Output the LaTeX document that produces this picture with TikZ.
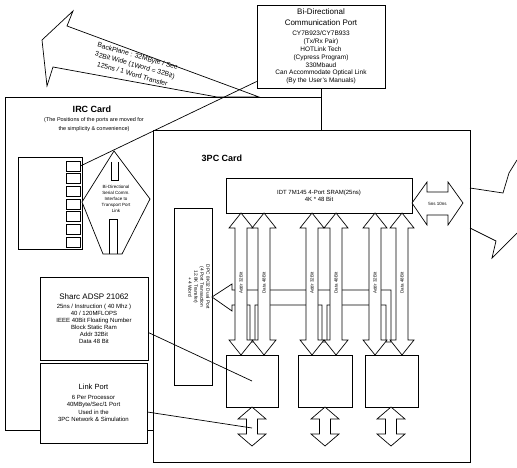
\documentclass[tikz,border=0pt]{standalone}
\usepackage{fontspec}
\setmainfont{Liberation Sans}
\begin{document}
\begin{tikzpicture}[x=1pt,y=-1pt,line width=0.7pt,line join=miter,
  box/.style={draw,fill=white,inner sep=0pt,align=center},
  fat/.style={draw,fill=white},
  small/.style={font=\fontsize{6}{7.2}\selectfont},
  tiny/.style={font=\fontsize{4.5}{6}\selectfont}]
\fill[white] (0,0) rectangle (517,468);
\useasboundingbox (0,0) rectangle (517,468);

% backplane
\draw[fat] (42,40) -- (73,11) -- (67,26) -- (259,97) -- (217,97) -- (53,67) -- (47,86) -- cycle;
\node[rotate=-16,align=center,font=\fontsize{6.8}{9.4}\selectfont] (bp) at (135,65)
  {BackPlane : 32MByte / Sec\\32Bit Wide (1Word = 32Bit)\\125ns / 1 Word Transfer};

% communication port
\node[box,minimum width=128pt,minimum height=83pt,font=\fontsize{6.5}{7.9}\selectfont] (comm) at (321,46.5)
  {{\fontsize{8}{9}\selectfont Bi-Directional}\\[3pt]
   {\fontsize{8}{9}\selectfont Communication Port}\\[2pt]
   CY7B923/CY7B933\\
   (Tx/Rx Pair)\\
   HOTLink Tech\\
   (Cypress Program)\\
   330Mbaud\\
   Can Accommodate Optical Link\\
   (By the User's Manuals)};
\coordinate (irctop) at (321,97);

% IRC card
\draw (5,97) rectangle (321,430);
\node[font=\bfseries\fontsize{9}{10}\selectfont] (irc) at (92,109) {IRC Card};
\node[align=center,font=\fontsize{5.5}{9}\selectfont] (ircnote) at (94,125)
  {(The Positions of the ports are moved for\\the simplicity \& convenience)};

% port strip
\draw[fill=white] (18,157) rectangle (82,249);
\foreach \i in {0,...,6}
  \node[draw,minimum width=14pt,minimum height=10pt,inner sep=0pt] (sq\i) at (73,{166+12.7*\i}) {};

% serial link
\draw[fat] (114,151) -- (150,199) -- (122,254) -- (103,254) -- (82,202) -- cycle;
\draw (111,162) -- (111,180) -- (118,180) -- (118,162);
\draw (109,254) -- (109,219) -- (117,219) -- (117,254);
\node[tiny,align=center] (serial) at (116,199)
  {Bi-Directional\\Serial Comm.\\Interface to\\Transport Port\\Link};

% sharc
\node[box,minimum width=108pt,minimum height=83pt,font=\fontsize{6}{7}\selectfont] (adsp) at (94,318.5)
  {{\fontsize{8}{9}\selectfont Sharc ADSP 21062}\\[2pt]
   25ns / Instruction ( 40 Mhz )\\
   40 / 120MFLOPS\\
   IEEE 40Bit Floating Number\\
   Block Static Ram\\
   Addr 32Bit\\
   Data 48 Bit};

% link port
\node[box,minimum width=107pt,minimum height=80pt,font=\fontsize{6}{7.5}\selectfont] (link) at (93.5,403)
  {{\fontsize{7.5}{9}\selectfont Link Port}\\[2pt]
   6 Per Processor\\
   40MByte/Sec/1 Port\\
   Used in the\\
   3PC Network \& Simulation};

% 3PC card
\node[box,minimum width=317pt,minimum height=332pt] (tpc) at (311.5,296) {};
\node[font=\bfseries\fontsize{9}{10}\selectfont] (tpcname) at (222,158) {3PC Card};

\node[box,minimum width=186pt,minimum height=35pt,small] (sram) at (319,195.5)
  {IDT 7M145 4-Port SRAM(25ns)\\4K * 48 Bit};
\draw[fat] (412,203) -- (427,182) -- (427,192) -- (448,192) -- (448,182) -- (463,203)
  -- (448,225) -- (448,215) -- (427,215) -- (427,225) -- cycle;
\node[font=\fontsize{4.5}{5}\selectfont] (bus) at (437.5,203.5) {5ns 10ns};

% off the card
\draw (470,188) -- (503,193) -- (509,173) -- (517,160);
\draw (470,228) -- (496,241) -- (492,258) -- (517,233);

% dual port box
\node[box,minimum width=38pt,minimum height=177pt] (dpbox) at (193,296.5) {};
\node[rotate=-90,align=center,font=\fontsize{4.8}{6}\selectfont] (dptext) at (199,287)
  {DPC 8K32 Dual Port\\(4 Port Transaction\\12.8K Transfer)\\+ 4 Word};

% shared bus
\draw[fat] (212,297) -- (232,284) -- (232,290) -- (391,290) -- (391,342) -- (386,342)
  -- (386,305) -- (327,305) -- (327,342) -- (322,342) -- (322,305) -- (255,305)
  -- (255,342) -- (250,342) -- (250,305) -- (232,305) -- (232,311) -- cycle;

% sram <-> processors
\foreach \c/\t [count=\i] in {241/Addr 32Bit,264/Data 48Bit,312/Addr 32Bit,336/Data 48Bit,375/Addr 32Bit,402/Data 48Bit} {
  \draw[fat] (\c,213) -- ({\c+12},228) -- ({\c+6},228) -- ({\c+6},340) -- ({\c+12},340)
    -- (\c,355) -- ({\c-12},340) -- ({\c-6},340) -- ({\c-6},228) -- ({\c-12},228) -- cycle;
  \node[rotate=90,font=\fontsize{4.5}{5}\selectfont] (lab\i) at (\c,283) {\t};
}

% processors
\foreach \name/\c/\w in {p1/252/52,p2/325/54,p3/391.5/53}
  \node[box,minimum width=\w pt,minimum height=52pt] (\name) at (\c,381) {};

\foreach \c [count=\i] in {252,325,391} {
  \draw[fat] (\c,407) -- ({\c+14},419) -- ({\c+5.5},419) -- ({\c+5.5},434) -- ({\c+14},434)
    -- (\c,446) -- ({\c-14},434) -- ({\c-5.5},434) -- ({\c-5.5},419) -- ({\c-14},419) -- cycle;
  \coordinate (bot\i) at (\c,428);
}

% connections
\draw (comm.south) -- (irctop);
\draw (sq0.east) -- ([yshift=-35pt]comm.west);
\draw ([yshift=-14pt]adsp.east) -- (p1.center);
\draw ([yshift=-9pt]link.east) -- (bot1);
\end{tikzpicture}
\end{document}
